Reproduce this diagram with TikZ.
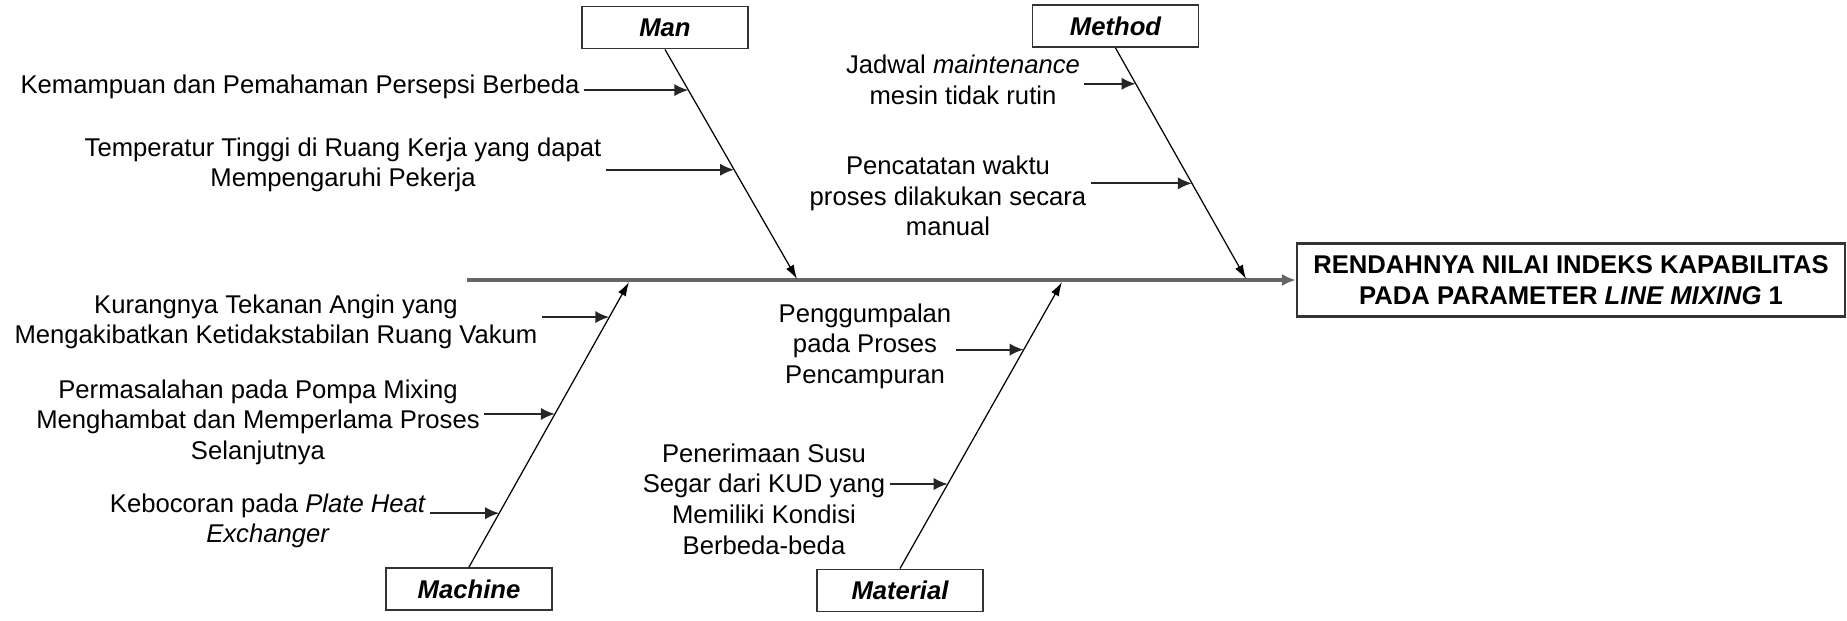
\documentclass[tikz,border=0pt]{standalone}
\usepackage{fontspec}
\setmainfont{Liberation Sans}
\usetikzlibrary{arrows.meta,calc}

\begin{document}
\begin{tikzpicture}[x=0.02cm,y=-0.02cm,
		every node/.style={font=\fontsize{14.6}{17.4}\selectfont, inner sep=0.08cm},
		causetext/.style={align=center},
		catbox/.style={draw=black!80, line width=1.1pt, minimum width=3.32cm, minimum height=0.84cm,
			font=\fontsize{14.6}{17.4}\selectfont\bfseries\itshape},
		effbox/.style={draw=black!80, line width=1.4pt, minimum width=10.96cm, minimum height=1.46cm,
			align=center, font=\fontsize{14.6}{17.4}\selectfont\bfseries},
		bone/.style={line width=0.7pt, -{Latex[length=8pt,width=5pt]}},
		cause/.style={black!85, line width=1.2pt, -{Latex[length=8pt,width=7pt]}},
		spine/.style={black!60, line width=2pt, -{Latex[length=8pt,width=7pt]}}]
		\useasboundingbox (0,0) rectangle (1847,620);

		% Effect and spine
		\node[effbox] (effect) at (1571,280) {RENDAHNYA NILAI INDEKS KAPABILITAS\\PADA PARAMETER \textit{LINE MIXING} 1};
		\coordinate (tail) at (467,280);
		\draw[spine] (tail) -- (effect.west);

		% Man
		\node[catbox] (man) at (665,27.5) {Man};
		\coordinate (mantip) at (797,279);
		\draw[bone] (man.south) -- (mantip);
		\coordinate (m1) at ($(man.south)!0.177!(mantip)$);
		\coordinate (m2) at ($(man.south)!0.524!(mantip)$);
		\node[causetext] (kem) at (300,87) {Kemampuan dan Pemahaman Persepsi Berbeda};
		\node[causetext] (temp) at (343,165) {Temperatur Tinggi di Ruang Kerja yang dapat\\Mempengaruhi Pekerja};
		\draw[cause] (kem.east |- m1) -- (m1);
		\draw[cause] (temp.east |- m2) -- (m2);

		% Method
		\node[catbox] (method) at (1115.5,26) {Method};
		\coordinate (methtip) at (1246,279);
		\draw[bone] (method.south) -- (methtip);
		\coordinate (t1) at ($(method.south)!0.155!(methtip)$);
		\coordinate (t2) at ($(method.south)!0.586!(methtip)$);
		\node[causetext] (jad) at (963,80) {Jadwal \textit{maintenance}\\mesin tidak rutin};
		\node[causetext] (pen) at (948,196) {Pencatatan waktu\\proses dilakukan secara\\manual};
		\draw[cause] (jad.east |- t1) -- (t1);
		\draw[cause] (pen.east |- t2) -- (t2);

		% Machine
		\node[catbox] (machine) at (469,589) {Machine};
		\coordinate (machtip) at (629,282);
		\draw[bone] (machine.north) -- (machtip);
		\coordinate (c1) at ($(machine.north)!0.877!(machtip)$);
		\coordinate (c2) at ($(machine.north)!0.537!(machtip)$);
		\coordinate (c3) at ($(machine.north)!0.189!(machtip)$);
		\node[causetext] (kur) at (276,322) {Kurangnya Tekanan Angin yang\\Mengakibatkan Ketidakstabilan Ruang Vakum};
		\node[causetext] (perm) at (258,422) {Permasalahan pada Pompa Mixing\\Menghambat dan Memperlama Proses\\Selanjutnya};
		\node[causetext] (keb) at (268,521) {Kebocoran pada \textit{Plate Heat}\\\textit{Exchanger}};
		\draw[cause] (kur.east |- c1) -- (c1);
		\draw[cause] (perm.east |- c2) -- (c2);
		\draw[cause] (keb.east |- c3) -- (c3);

		% Material
		\node[catbox] (material) at (900,590.5) {Material};
		\coordinate (mattip) at (1062,282);
		\draw[bone] (material.north) -- (mattip);
		\coordinate (r1) at ($(material.north)!0.764!(mattip)$);
		\coordinate (r2) at ($(material.north)!0.295!(mattip)$);
		\node[causetext] (gum) at (865,346) {Penggumpalan\\pada Proses\\Pencampuran};
		\node[causetext] (ter) at (764,499) {Penerimaan Susu\\Segar dari KUD yang\\Memiliki Kondisi\\Berbeda-beda};
		\draw[cause] (gum.east |- r1) -- (r1);
		\draw[cause] (ter.east |- r2) -- (r2);
	\end{tikzpicture}
\end{document}
